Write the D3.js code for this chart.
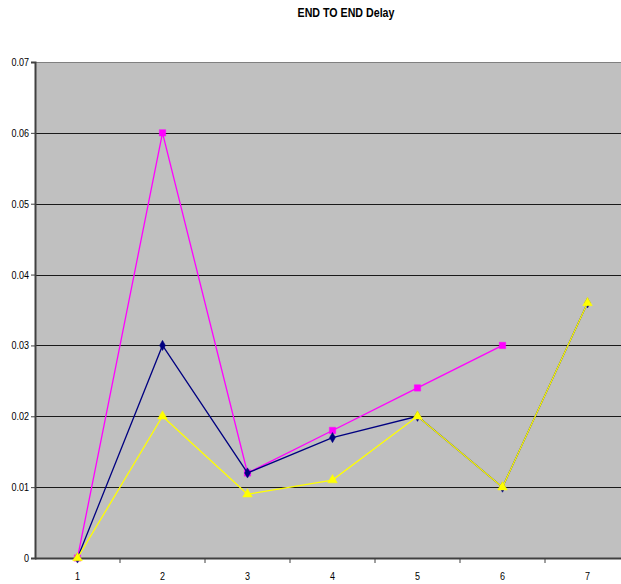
<!DOCTYPE html>
<html>
<head>
<meta charset="utf-8">
<script src="https://cdn.jsdelivr.net/npm/d3@7"></script>
<style>
  html, body { margin: 0; padding: 0; background: #fff; }
  svg { display: block; }
  text { font-family: "Liberation Sans Narrow", "Arial Narrow", "Liberation Sans", Arial, sans-serif; }
</style>
</head>
<body>
<svg id="chart" width="621" height="584"></svg>
<script>
// Categories along the x axis
const categories = ["1", "2", "3", "4", "5", "6", "7"];
// Y tick values
const yTicks = [0, 0.01, 0.02, 0.03, 0.04, 0.05, 0.06, 0.07];

// Series values (null = no point)
const magentaValues = [0, 0.06, 0.012, 0.018, 0.024, 0.03, null];
const navyValues    = [0, 0.03, 0.012, 0.017, 0.02, 0.01, 0.036];
const yellowValues  = [0, 0.02, 0.009, 0.011, 0.02, 0.01, 0.036];

const series = [
  { name: "magenta", color: "#FF00FF", marker: "square",   values: magentaValues },
  { name: "navy",    color: "#000080", marker: "diamond",  values: navyValues },
  { name: "yellow",  color: "#FFFF00", marker: "triangle", values: yellowValues }
];

const svg = d3.select("#chart");
const plot = { left: 35, top: 62, right: 630, bottom: 558 };
const narrow = 0.82; // horizontal condensing for a narrow face

const x = d3.scaleBand().domain(categories).range([plot.left, plot.right]);
const y = d3.scaleLinear().domain([0, 0.07]).range([plot.bottom, plot.top]);
const cx = c => x(c) + x.bandwidth() / 2;

// Title
svg.append("text")
  .attr("transform", `translate(346,17) scale(${narrow},1)`)
  .attr("text-anchor", "middle")
  .attr("font-size", 13).attr("font-weight", "bold")
  .text("END TO END Delay");

// Plot background
svg.append("rect")
  .attr("x", plot.left).attr("y", plot.top)
  .attr("width", plot.right - plot.left).attr("height", plot.bottom - plot.top)
  .attr("fill", "#C0C0C0");

// Horizontal gridlines
svg.append("g").selectAll("line")
  .data(yTicks.filter(d => d > 0))
  .join("line")
  .attr("x1", plot.left).attr("x2", plot.right)
  .attr("y1", d => Math.round(y(d)) + 0.5).attr("y2", d => Math.round(y(d)) + 0.5)
  .attr("stroke", d => d === 0.07 ? "#808080" : "#1a1a1a")
  .attr("stroke-width", 1);

// Y axis
const yAxis = d3.axisLeft(y).tickValues(yTicks).tickSize(4).tickFormat("");
const gy = svg.append("g").attr("transform", `translate(${plot.left},0)`).call(yAxis);
gy.select(".domain").attr("stroke", "#404040").attr("stroke-width", 2);
gy.selectAll(".tick line").attr("stroke", "#404040");
svg.append("g").selectAll("text")
  .data(yTicks)
  .join("text")
  .attr("transform", d => `translate(29,${y(d) + 4}) scale(${narrow},1)`)
  .attr("text-anchor", "end")
  .attr("font-size", 11)
  .text(d => d === 0 ? "0" : d3.format(".2f")(d));

// X axis: ticks at category boundaries, labels centred in bands
const gx = svg.append("g");
gx.append("line")
  .attr("x1", plot.left).attr("x2", plot.right)
  .attr("y1", plot.bottom + 0.5).attr("y2", plot.bottom + 0.5)
  .attr("stroke", "#404040").attr("stroke-width", 2);
gx.selectAll("line.tk")
  .data(categories.slice(1))
  .join("line").attr("class", "tk")
  .attr("x1", d => x(d)).attr("x2", d => x(d))
  .attr("y1", plot.bottom).attr("y2", plot.bottom + 5)
  .attr("stroke", "#404040");
gx.selectAll("text")
  .data(categories)
  .join("text")
  .attr("transform", d => `translate(${cx(d)},580) scale(${narrow},1)`)
  .attr("text-anchor", "middle")
  .attr("font-size", 11)
  .text(d => d);

// Lines
const line = d3.line()
  .defined(d => d.v !== null)
  .x(d => cx(d.c)).y(d => y(d.v));

const markerPath = {
  square: d3.symbol(d3.symbolSquare, 40),
  diamond: d3.symbol(d3.symbolDiamond, 30),
  triangle: d3.symbol(d3.symbolTriangle, 40)
};

series.forEach(s => {
  const pts = s.values.map((v, i) => ({ c: categories[i], v }));
  svg.append("path")
    .datum(pts)
    .attr("d", line)
    .attr("fill", "none")
    .attr("stroke", s.color)
    .attr("stroke-width", 1.3);
  svg.append("g").selectAll("path")
    .data(pts.filter(d => d.v !== null))
    .join("path")
    .attr("transform", d => `translate(${cx(d.c)},${y(d.v)})`)
    .attr("d", markerPath[s.marker]())
    .attr("fill", s.color)
    .attr("stroke", s.color)
    .attr("stroke-width", 0.5);
});
</script>
</body>
</html>
